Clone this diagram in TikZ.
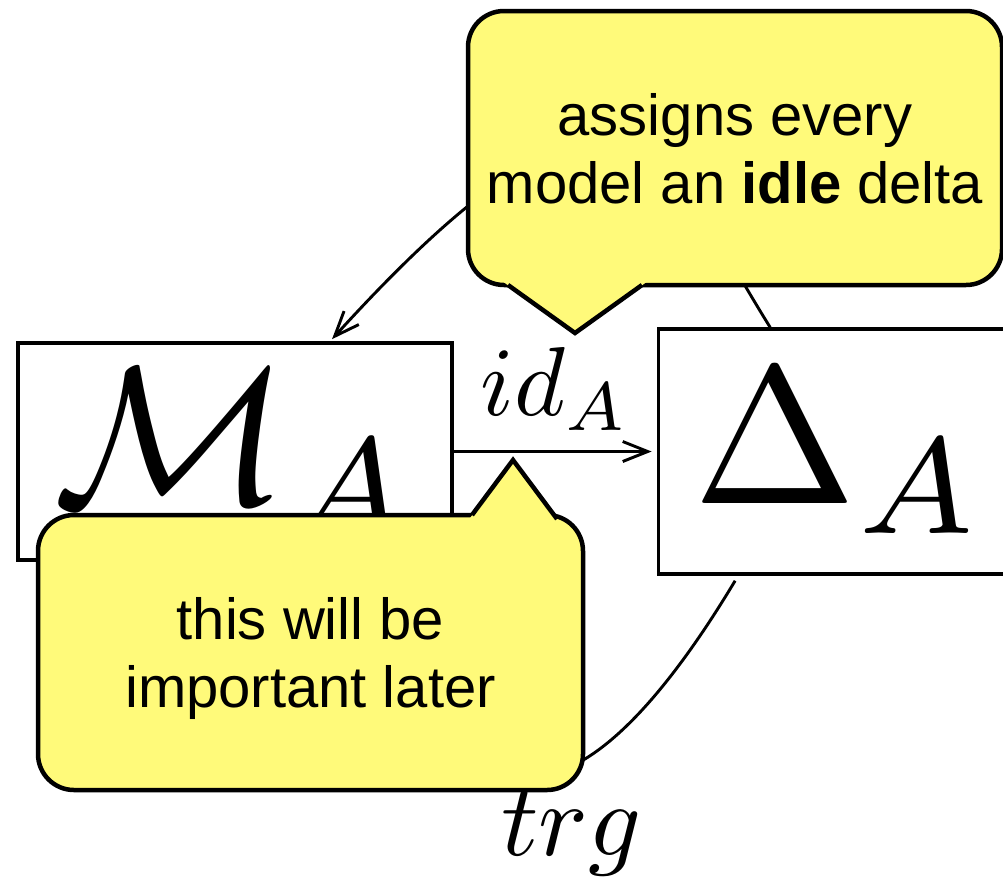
\RequirePackage{fix-cm}
\documentclass[tikz,border=0pt]{standalone}
\usepackage[no-math]{fontspec}
\usepackage{graphicx}
\newfontfamily\notefont{Liberation Sans}
\usetikzlibrary{positioning,arrows.meta}

\definecolor{notefill}{RGB}{255,250,122}
\newcommand\bigmath[1]{\scalebox{19.6}{$#1$}}
\newcommand\labelmath[1]{\scalebox{9.8}{$#1$}}

\tikzset{
    objbox/.style={draw, line width=3.2pt, inner sep=0pt},
    conn/.style={line width=2.9pt, >={Straight Barb[length=25pt,width=20pt]}},
    arrlabel/.style={inner sep=0pt},
    note/.style={draw, line width=4.5pt, fill=notefill, rounded corners=36pt, inner sep=0pt,
        align=center, text depth=0pt, font=\notefont\fontsize{58}{68}\selectfont},
    notetip/.style={line width=4.5pt, line join=miter},
}

\begin{document}
\begin{tikzpicture}[x=1pt, y=1pt]

    \useasboundingbox (0,0) rectangle (1003,-879);
    \clip (0,0) rectangle (1003,-879);

    \node[objbox, minimum width=434pt, minimum height=217pt] (Mbox) at (235,-451.5) {\bigmath{\mathcal{M}_A}};
    \node[objbox, minimum width=362pt, minimum height=245pt, right=203pt of Mbox] (Dbox) {\bigmath{\Delta_A}};

    % id, and the two legs of a delta
    \draw[conn, ->, shorten >=5pt] (Mbox) -- node[arrlabel, above=20pt] {\labelmath{id_A}} (Dbox);
    \draw[conn, ->, shorten >=3pt] ([xshift=-69pt]Dbox.north) .. controls +(-106,170) and +(300,330) .. ([xshift=95pt]Mbox.north);
    \draw[conn, ->, shorten <=6pt] ([xshift=-101pt]Dbox.south) .. controls +(-150,-250) and +(60,-300) .. ([xshift=165pt]Mbox.south)
        node[arrlabel, pos=0.4, below=25pt] {\scalebox{1.06}{\labelmath{trg}}};

    % callouts
    \node[note, minimum width=534pt, minimum height=274pt] (idlenote) at (735,-148) {assigns every\\model an \textbf{idle} delta};
    \coordinate (idletip) at (575,-333);
    \fill[notefill] (502,-281) -- (idletip) -- (648,-281) -- cycle;
    \draw[notetip] (508,-285) -- (idletip) -- (642,-285);

    \node[note, minimum width=545pt, minimum height=275pt] (laternote) at (310.5,-652.5) {this will be\\important later};
    \coordinate (latertip) at (513,-460);
    \fill[notefill] (469,-519.5) -- (latertip) -- (558,-520) -- cycle;
    \draw[notetip] (472,-515) -- (latertip) -- (557,-519);

\end{tikzpicture}
\end{document}
